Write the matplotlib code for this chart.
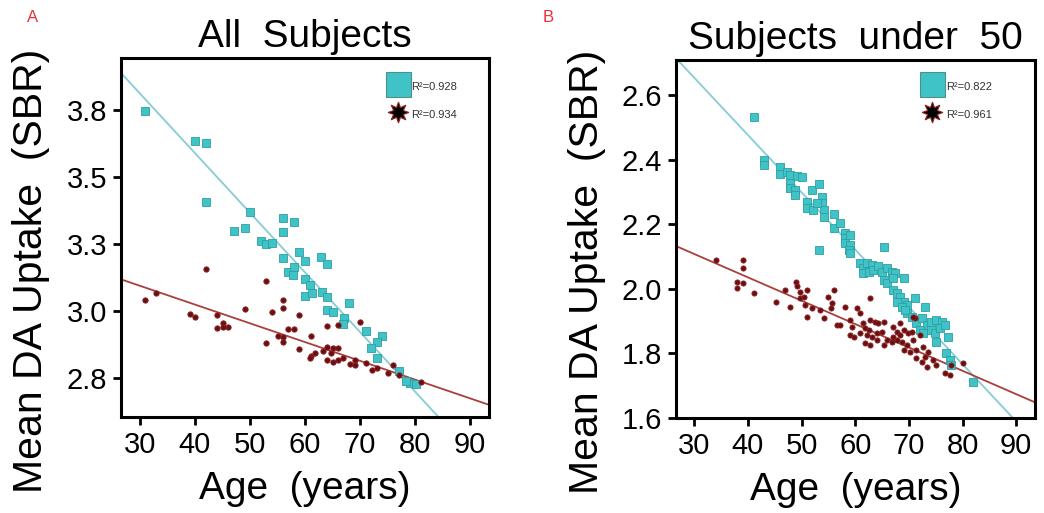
import matplotlib
matplotlib.use("Agg")
import matplotlib.pyplot as plt
from matplotlib.lines import Line2D
import numpy as np

plt.rcParams['font.family'] = ['Liberation Sans', 'DejaVu Sans']

# ---------------- data ----------------
# Panel A: All subjects
a_cyan_age = [31.0, 40.0, 42.1, 42.1, 50.0, 47.1, 49.1, 56.0, 58.0, 56.0, 52.0, 53.0, 54.0, 56.0,
              59.0, 60.1, 62.9, 64.1, 57.0, 58.0, 57.9, 60.1, 61.0, 60.1, 61.3, 63.1, 64.1, 68.0,
              64.1, 65.1, 67.1, 67.0, 71.1, 74.1, 73.1, 72.0, 73.1, 77.2, 79.1, 80.2, 78.5]
a_cyan_sbr = [3.746, 3.635, 3.626, 3.408, 3.371, 3.299, 3.309, 3.346, 3.333, 3.296, 3.262, 3.250,
              3.252, 3.197, 3.219, 3.188, 3.203, 3.174, 3.147, 3.163, 3.134, 3.119, 3.097, 3.057,
              3.066, 3.072, 3.053, 3.031, 3.004, 2.995, 2.973, 2.951, 2.925, 2.907, 2.885, 2.863,
              2.823, 2.776, 2.730, 2.726, 2.737]
a_red_age = [31.0, 33.0, 42.1, 39.1, 40.0, 44.1, 45.1, 44.1, 46.0, 45.1, 49.1, 53.0, 54.0, 56.0,
             56.0, 53.0, 55.1, 56.0, 56.0, 57.0, 58.0, 59.0, 59.0, 61.1, 61.1, 61.9, 64.1, 64.1,
             65.1, 66.1, 64.1, 65.1, 66.1, 66.1, 67.0, 69.1, 69.1, 70.0, 71.1, 72.2, 73.1, 75.2,
             76.1, 77.2, 81.2, 63.4, 64.8, 68.2, 61.0]
a_red_sbr = [3.041, 3.068, 3.156, 2.988, 2.976, 2.985, 2.956, 2.935, 2.941, 2.941, 3.006, 3.112,
             2.997, 3.039, 3.010, 2.882, 2.907, 2.902, 2.885, 2.932, 2.934, 2.985, 2.858, 2.907,
             2.832, 2.842, 2.944, 2.867, 2.861, 2.861, 2.817, 2.811, 2.948, 2.817, 2.823, 2.817,
             2.798, 2.960, 2.807, 2.780, 2.786, 2.770, 2.798, 2.761, 2.733, 2.849, 2.842, 2.800,
             2.825]
a_cyan_fit = [-0.02225, 4.480]   # slope, intercept
a_red_fit = [-0.0070, 3.304]
a_r2 = ["R²=0.928", "R²=0.934"]
a_yticks = [2.75, 3.0, 3.25, 3.5, 3.75]
a_yticklabels = ["2.8", "3.0", "3.3", "3.5", "3.8"]

# Panel B: Subjects under 50
b_cyan_age = [41.1, 43.0, 43.0, 46.0, 46.0, 47.3, 47.9, 49.2, 50.1, 47.8, 47.8, 48.7, 48.7, 52.0,
              53.2, 51.0, 51.0, 52.1, 53.8, 53.8, 54.1, 54.1, 52.9, 53.2, 56.1, 56.0, 57.1, 58.1,
              58.1, 59.1, 58.1, 59.1, 58.8, 59.1, 60.9, 61.5, 62.2, 63.1, 61.5, 62.5, 63.4, 65.3,
              64.3, 64.9, 65.9, 66.8, 67.4, 65.3, 65.9, 67.1, 69.0, 67.1, 67.7, 68.3, 69.0, 69.6,
              67.7, 68.7, 69.6, 70.5, 71.1, 69.3, 73.0, 71.4, 72.4, 73.3, 72.1, 72.7, 74.2, 75.1,
              76.1, 74.2, 74.8, 75.8, 76.7, 75.1, 77.3, 77.0, 77.6, 77.9, 81.9]
b_cyan_sbr = [2.533, 2.399, 2.383, 2.378, 2.355, 2.360, 2.352, 2.349, 2.347, 2.327, 2.311, 2.306,
              2.290, 2.306, 2.323, 2.270, 2.249, 2.244, 2.285, 2.265, 2.244, 2.223, 2.265, 2.120,
              2.232, 2.187, 2.203, 2.172, 2.156, 2.167, 2.141, 2.136, 2.120, 2.110, 2.079, 2.063,
              2.079, 2.074, 2.048, 2.053, 2.058, 2.130, 2.069, 2.053, 2.063, 2.053, 2.048, 2.027,
              2.017, 2.032, 2.032, 1.996, 1.986, 1.976, 1.960, 1.950, 1.960, 1.945, 1.924, 1.914,
              1.970, 1.934, 1.945, 1.893, 1.909, 1.888, 1.872, 1.862, 1.898, 1.903, 1.898, 1.872,
              1.862, 1.878, 1.888, 1.836, 1.852, 1.800, 1.780, 1.764, 1.712]
b_red_age = [34.0, 39.0, 39.0, 38.0, 39.0, 38.0, 41.1, 45.2, 47.0, 47.9, 48.9, 49.2, 49.8, 49.8,
             50.4, 51.0, 50.7, 51.0, 52.0, 53.5, 54.1, 55.0, 55.7, 56.0, 55.4, 56.6, 57.2, 58.1,
             59.1, 59.4, 60.3, 60.9, 59.1, 59.7, 60.9, 61.5, 61.8, 62.5, 62.8, 62.8, 63.7, 64.3,
             61.8, 62.8, 64.0, 62.2, 63.1, 64.0, 64.9, 65.3, 65.3, 65.9, 66.8, 67.1, 67.7, 68.3,
             67.1, 67.7, 69.0, 69.9, 70.5, 68.7, 69.6, 70.8, 69.0, 70.2, 71.4, 68.3, 71.1, 72.1,
             71.4, 72.4, 73.0, 72.7, 73.6, 74.5, 75.1, 76.7, 77.6, 77.9, 80.1, 73.3, 70.8]
b_red_sbr = [2.089, 2.089, 2.063, 2.022, 2.017, 2.001, 1.986, 1.960, 1.996, 1.945, 2.022, 2.007,
             1.991, 1.970, 1.976, 1.996, 1.950, 1.914, 1.940, 1.934, 1.909, 1.976, 1.955, 1.996,
             1.940, 1.888, 1.888, 1.945, 1.903, 1.883, 1.940, 1.924, 1.857, 1.852, 1.862, 1.893,
             1.878, 1.872, 1.970, 1.903, 1.898, 1.893, 1.831, 1.826, 1.841, 1.857, 1.852, 1.862,
             1.867, 1.898, 1.826, 1.841, 1.836, 1.883, 1.867, 1.857, 1.852, 1.841, 1.872, 1.862,
             1.867, 1.836, 1.826, 1.841, 1.810, 1.805, 1.810, 1.893, 1.909, 1.857, 1.785, 1.774,
             1.790, 1.821, 1.805, 1.780, 1.764, 1.738, 1.733, 1.764, 1.769, 1.759, 1.914]
b_cyan_fit = [-0.01773, 3.185]
b_red_fit = [-0.00723, 2.3245]
b_r2 = ["R²=0.822", "R²=0.961"]
b_yticks = [1.6, 1.8, 2.0, 2.2, 2.4, 2.6]
b_yticklabels = ["1.6", "1.8", "2.0", "2.2", "2.4", "2.6"]

xticks = [30, 40, 50, 60, 70, 80, 90]
titles = ["All  Subjects", "Subjects  under  50"]
panel_letters = ["A", "B"]
xlabel = "Age  (years)"
ylabel = "Mean DA Uptake  (SBR)"

# ---------------- style ----------------
CYAN_FACE = '#3FC3C6'
CYAN_EDGE = '#2E9FA3'
RED_FACE = '#6A0E10'
RED_EDGE = '#8E2426'
CYAN_LINE = '#86CCD6'
RED_LINE = '#A8403E'

W, H = 1044, 513
fig = plt.figure(figsize=(W / 100, H / 100), dpi=100)

def px_axes(l, t, r, b):
    return fig.add_axes([l / W, 1 - b / H, (r - l) / W, (b - t) / H])

axA = px_axes(121, 58, 489, 417)
axB = px_axes(676, 60, 1035, 418)

panels = [
    (axA, a_cyan_age, a_cyan_sbr, a_red_age, a_red_sbr, a_cyan_fit, a_red_fit, a_r2,
     a_yticks, a_yticklabels, (2.604, 3.944), 40, 15, (0.708, 0.966)),
    (axB, b_cyan_age, b_cyan_sbr, b_red_age, b_red_sbr, b_cyan_fit, b_red_fit, b_r2,
     b_yticks, b_yticklabels, (1.6, 2.708), 32, 14, (0.668, 0.972)),
]

for i, (ax, ca, cs, ra, rs, cf, rf, r2, yt, ytl, ylim, s_sq, s_dot, leg_anchor) in enumerate(panels):
    xlim = (26.6, 93.5)
    xx = np.array(xlim)
    ax.plot(xx, cf[0] * xx + cf[1], color=CYAN_LINE, lw=1.3, zorder=2)
    ax.plot(xx, rf[0] * xx + rf[1], color=RED_LINE, lw=1.3, zorder=2)
    ax.scatter(ca, cs, marker='s', s=s_sq, facecolor=CYAN_FACE, edgecolor=CYAN_EDGE,
               linewidths=0.6, zorder=3)
    ax.scatter(ra, rs, marker='o', s=s_dot, facecolor=RED_FACE, edgecolor=RED_EDGE,
               linewidths=0.6, zorder=4)
    ax.set_xlim(*xlim)
    ax.set_ylim(*ylim)
    ax.set_xticks(xticks)
    ax.set_xticklabels([str(v) for v in xticks])
    ax.set_yticks(yt)
    ax.set_yticklabels(ytl)
    ax.tick_params(axis='both', which='major', direction='out', length=6, width=2,
                   labelsize=21, pad=4, colors='black')
    for sp in ax.spines.values():
        sp.set_linewidth(2.2)
    ax.set_xlabel(xlabel, fontsize=28)
    ax.set_ylabel(ylabel, fontsize=29.5)
    ax.xaxis.set_label_coords(0.5, -0.15)
    ax.yaxis.set_label_coords(-0.194, 0.408)
    ax.set_title(titles[i], fontsize=28, pad=8)

    handles = [
        Line2D([], [], ls='none', marker='s', markersize=18, markerfacecolor=CYAN_FACE,
               markeredgecolor='#4F8F90', markeredgewidth=0.8),
        Line2D([], [], ls='none', marker=(8, 1, 0), markersize=15, markerfacecolor='black',
               markeredgecolor='#8E2426', markeredgewidth=0.8),
    ]
    ax.legend(handles, r2, loc='upper left', bbox_to_anchor=leg_anchor, frameon=False,
              fontsize=8, handlelength=1.5, handleheight=2.0, labelspacing=1.0,
              handletextpad=0.5, borderpad=0.2, labelcolor='#333333')

fig.text(33 / W, 1 - 18 / H, panel_letters[0], color='#E8303A', fontsize=12, ha='center', va='center')
fig.text(548 / W, 1 - 18 / H, panel_letters[1], color='#E8303A', fontsize=12, ha='center', va='center')

fig.savefig('out.png', dpi=100)
